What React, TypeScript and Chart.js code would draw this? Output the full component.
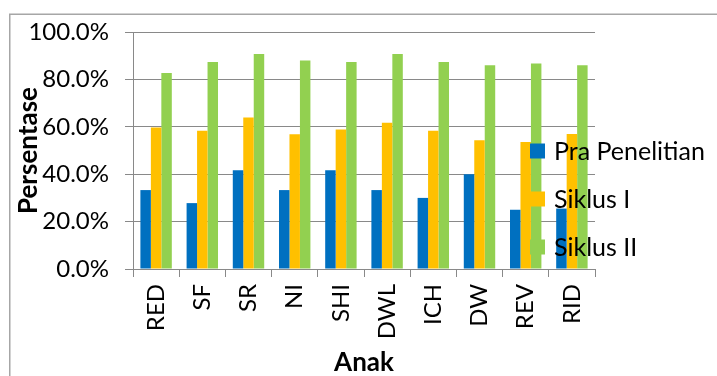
import React, { useEffect, useRef } from "react";
import { Chart, registerables } from "chart.js";

Chart.register(...registerables);

const categories = ["RED", "SF", "SR", "NI", "SHI", "DWL", "ICH", "DW", "REV", "RID"];
const praPenelitian = [33.3, 27.8, 41.7, 33.3, 41.7, 33.3, 30.0, 40.0, 25.0, 25.5];
const siklusI = [59.7, 58.3, 63.9, 56.9, 58.9, 61.7, 58.3, 54.3, 53.6, 57.0];
const siklusII = [82.7, 87.3, 90.7, 88.0, 87.3, 90.7, 87.3, 86.0, 86.7, 86.0];
const seriesNames = ["Pra Penelitian", "Siklus I", "Siklus II"];
const seriesColors = ["#0070C0", "#FFC000", "#92D050"];
const yTicksMax = 100;
const yTickStep = 20;

const FONT = "Lato, 'Open Sans', sans-serif";

const frameAndLegend = {
  id: "frameAndLegend",
  beforeDraw(chart: any) {
    const ctx = chart.ctx;
    ctx.save();
    ctx.fillStyle = "#ffffff";
    ctx.fillRect(0, 0, chart.width, chart.height);
    ctx.strokeStyle = "#a6a6a6";
    ctx.lineWidth = 1.5;
    ctx.strokeRect(9.75, 14.25, chart.width + 20, chart.height + 20);
    ctx.restore();
  },
  afterDraw(chart: any) {
    const ctx = chart.ctx;
    const area = chart.chartArea;
    ctx.save();
    ctx.font = `25px ${FONT}`;
    ctx.textBaseline = "middle";
    ctx.textAlign = "left";
    chart.data.datasets.forEach((ds: any, i: number) => {
      const cy = area.top + 119 + i * 48;
      const bx = area.right - 65;
      ctx.fillStyle = ds.backgroundColor;
      ctx.fillRect(bx, cy - 7.5, 15, 15);
      ctx.fillStyle = "#000000";
      ctx.fillText(ds.label, bx + 24, cy + 1);
    });
    ctx.restore();
  },
};

export default function App() {
  const ref = useRef<HTMLCanvasElement | null>(null);
  useEffect(() => {
    if (!ref.current) return;
    const chart = new Chart(ref.current, {
      type: "bar",
      data: {
        labels: categories,
        datasets: [praPenelitian, siklusI, siklusII].map((d, i) => ({
          label: seriesNames[i],
          data: d,
          backgroundColor: seriesColors[i],
          borderWidth: 0,
          categoryPercentage: 0.68,
          barPercentage: 1.0,
        })),
      },
      options: {
        responsive: false,
        animation: false,
        devicePixelRatio: 1,
        layout: { padding: { left: 10, top: 32, right: 122, bottom: 0 } },
        plugins: {
          legend: { display: false },
          tooltip: { enabled: false },
          title: { display: false },
        },
        scales: {
          x: {
            afterFit: (s: any) => {
              s.height = 107;
            },
            grid: {
              display: true,
              drawOnChartArea: false,
              drawTicks: true,
              tickLength: 8,
              color: "#898989",
              offset: true,
            },
            border: { display: true, color: "#898989", width: 1 },
            ticks: {
              color: "#000000",
              font: { family: FONT, size: 24 },
              minRotation: 90,
              maxRotation: 90,
              padding: 7,
              autoSkip: false,
            },
            title: {
              display: true,
              text: "Anak",
              color: "#000000",
              font: { family: FONT, size: 26, weight: "bold", lineHeight: 1 },
              padding: { top: 0, bottom: 0 },
            },
          },
          y: {
            min: 0,
            max: yTicksMax,
            afterFit: (s: any) => {
              s.width = 123;
            },
            grid: {
              color: "#898989",
              drawTicks: true,
              tickLength: 8,
            },
            border: { display: true, color: "#898989", width: 1 },
            ticks: {
              stepSize: yTickStep,
              color: "#000000",
              font: { family: FONT, size: 24 },
              padding: 16,
              callback: (v: any) => Number(v).toFixed(1) + "%",
            },
            title: {
              display: true,
              text: "Persentase",
              color: "#000000",
              font: { family: FONT, size: 26, weight: "bold", lineHeight: 1.2 },
              padding: { top: 3, bottom: 0 },
            },
          },
        },
      },
      plugins: [frameAndLegend],
    });
    return () => chart.destroy();
  }, []);
  return (
    <div style={{ position: "fixed", left: 0, top: 0, width: 717, height: 376, overflow: "hidden" }}>
      <canvas ref={ref} width={717} height={376} style={{ display: "block" }} />
    </div>
  );
}
